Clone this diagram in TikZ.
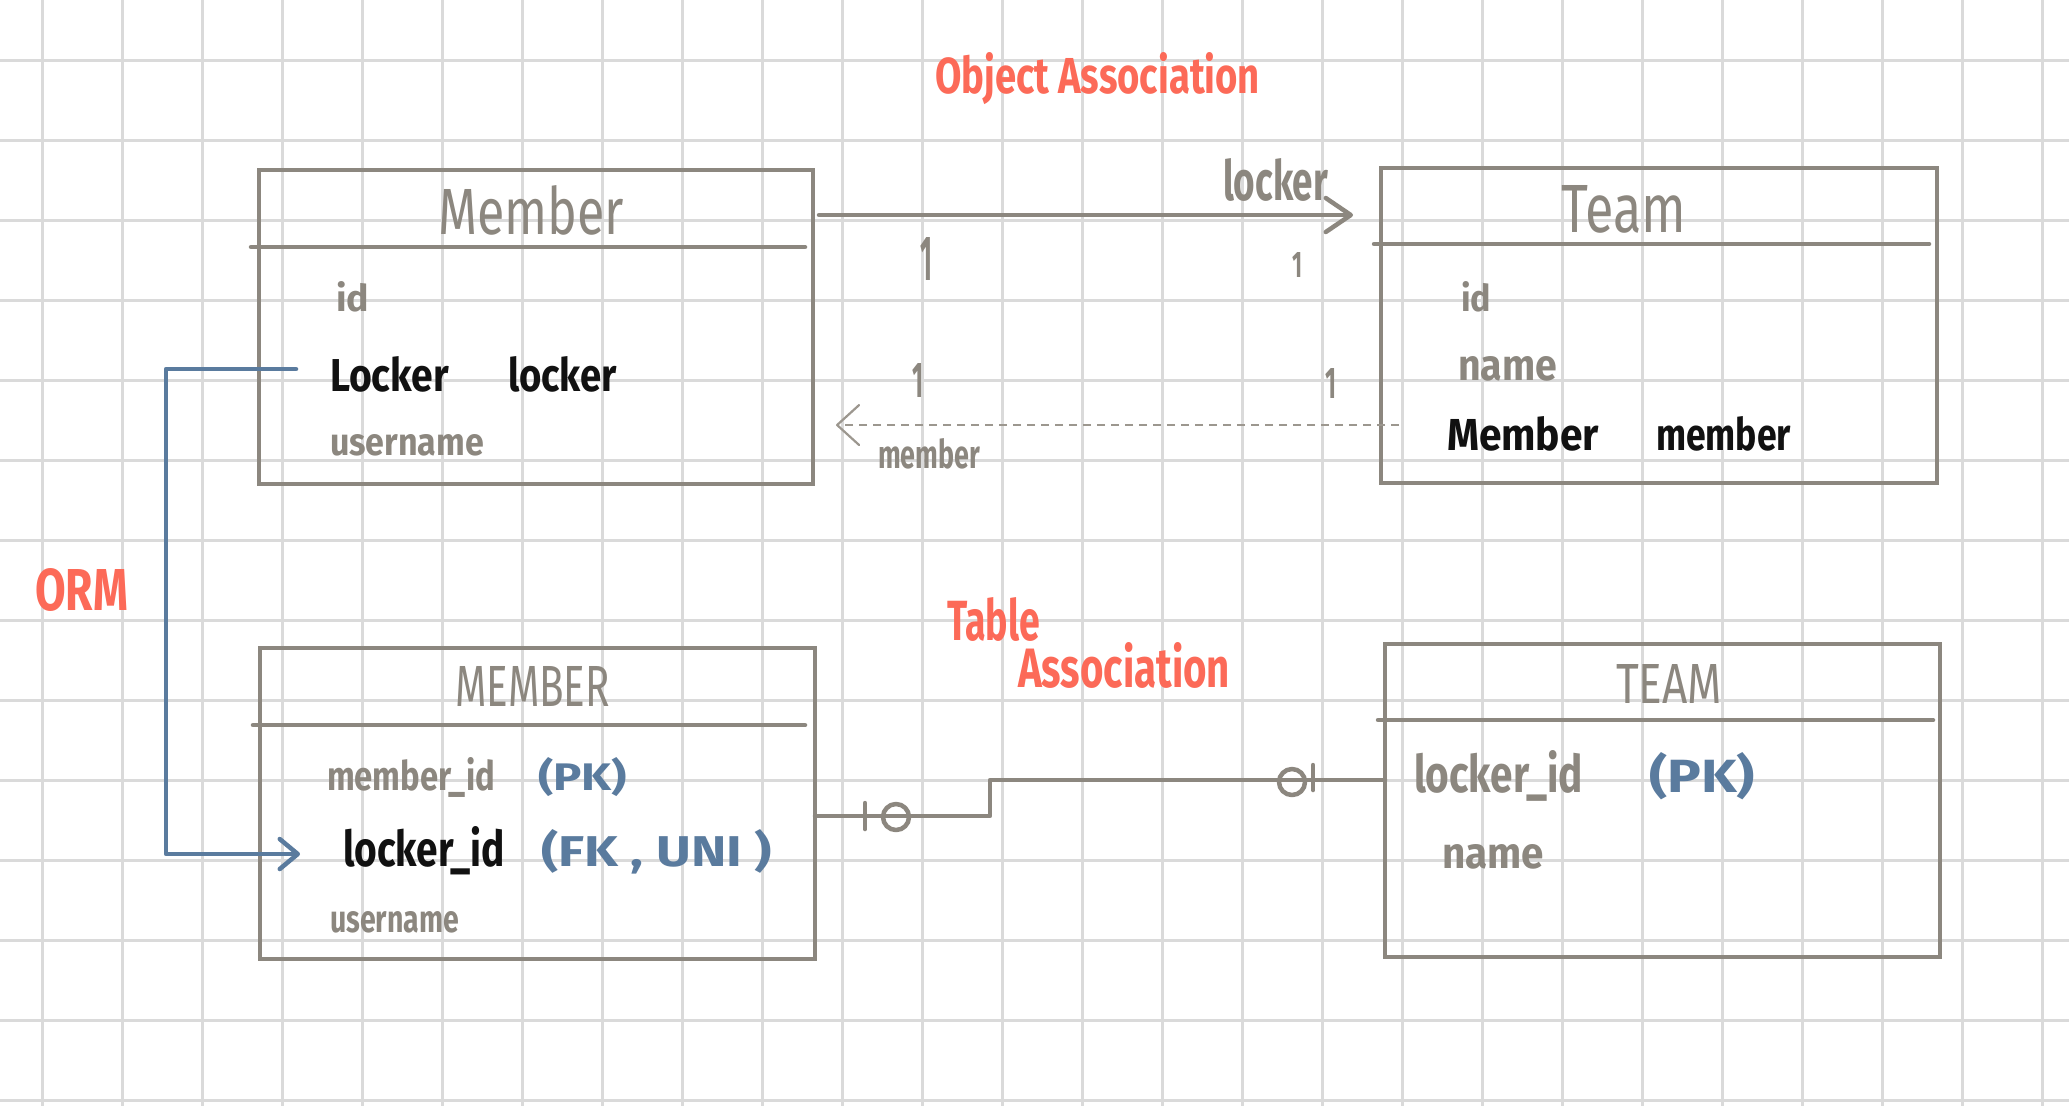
\documentclass[tikz,border=0pt]{standalone}
\usepackage{fontspec}
\setmainfont{Fira Sans}
\usepackage{graphicx}
\usetikzlibrary{arrows.meta,calc}
\definecolor{boxgray}{HTML}{8C877F}
\definecolor{dashgray}{HTML}{9C978F}
\definecolor{ormblue}{HTML}{5A7B9E}
\definecolor{notered}{HTML}{FC6A58}
\definecolor{gridgray}{HTML}{DADADA}
\definecolor{inkblack}{HTML}{111111}
\newlength\px \setlength\px{0.1mm}
\newcommand\hw[3]{\resizebox{#1\px}{#2\px}{#3}}
\begin{document}
\begin{tikzpicture}[x=0.1mm,y=-0.1mm,
  txt/.style={anchor=base west, inner sep=0pt, outer sep=0pt},
  gtxt/.style={txt, text=boxgray},
  gbtxt/.style={txt, text=boxgray, font=\bfseries},
  btxt/.style={txt, text=inkblack, font=\bfseries},
  bltxt/.style={txt, text=ormblue, font=\bfseries},
  rtxt/.style={txt, text=notered, font=\bfseries},
  ebox/.style={draw=boxgray, line width=0.45mm, rectangle, inner sep=0pt, outer sep=0pt},
  hline/.style={draw=boxgray, line width=0.45mm, line cap=round},
  conn/.style={draw=boxgray, line width=0.45mm, line cap=round, line join=round},
  bigbarb/.style={-{Straight Barb[length=2.5mm,width=3.4mm,line width=0.45mm,round]}},
]
\useasboundingbox (0,0) rectangle (2069,1106);
\fill[white] (0,0) rectangle (2069,1106);
% grid
\foreach \i in {0,...,25} \draw[gridgray, line width=0.3mm] (42+80*\i,0) -- (42+80*\i,1106);
\foreach \j in {0,...,13} \draw[gridgray, line width=0.3mm] (0,60+80*\j) -- (2069,60+80*\j);

% boxes
\node[ebox, minimum width=554\px, minimum height=314\px] (member) at (536,327) {};
\node[ebox, minimum width=556\px, minimum height=315\px] (team) at (1659,325.5) {};
\node[ebox, minimum width=555\px, minimum height=311\px] (memberT) at (537.5,803.5) {};
\node[ebox, minimum width=555\px, minimum height=313\px] (teamT) at (1662.5,800.5) {};

% header lines
\draw[hline] ([shift={(-8,77)}]member.north west) -- ([shift={(-8,77)}]member.north east);
\draw[hline] ([shift={(-7,76)}]team.north west) -- ([shift={(-8,76)}]team.north east);
\draw[hline] ([shift={(-7,77)}]memberT.north west) -- ([shift={(-10,77)}]memberT.north east);
\draw[hline] ([shift={(-7,76)}]teamT.north west) -- ([shift={(-7,76)}]teamT.north east);

% titles
\node[rtxt] (objassoc) at (935,93) {\hw{325}{41}{Object Association}};
\node[gtxt] (memberTitle) at (438,234) {\hw{186}{49}{Member}};
\node[gtxt] (teamTitle) at (1561,232) {\hw{125}{47}{Team}};
\node[gtxt] (memberTTitle) at (455,706) {\hw{155}{40}{MEMBER}};
\node[gtxt] (teamTTitle) at (1616,703) {\hw{106}{39}{TEAM}};

% Member fields
\node[gbtxt] (mId) at (336,311) {\hw{33}{30}{id}};
\node[btxt] (mLocker) at (330,391) {\hw{119}{35}{Locker}\hspace{59\px}\hw{109}{35}{locker}};
\node[gbtxt] (mUser) at (330,455) {\hw{154}{21}{username}};

% Team fields
\node[gbtxt] (tId) at (1461,311) {\hw{30}{30}{id}};
\node[gbtxt] (tName) at (1458,380) {\hw{99}{24}{name}};
\node[btxt] (tMember) at (1447,450) {\hw{152}{34}{Member}\hspace{57\px}\hw{135}{34}{member}};

% MEMBER table fields
\node[gbtxt] (mtId) at (327,790) {\hw{168}{33}{member\_id}};
\node[bltxt] (mtPK) at (538,790) {\hw{89}{33}{(PK)}};
\node[btxt] (mtLocker) at (343,866) {\hw{162}{40}{locker\_id}};
\node[bltxt] (mtFK) at (541,866) {\hw{231}{37}{(FK , UNI )}};
\node[gbtxt] (mtUser) at (330,932) {\hw{129}{21}{username}};

% TEAM table fields
\node[gbtxt] (ttLocker) at (1414,792) {\hw{169}{42}{locker\_id}};
\node[bltxt] (ttPK) at (1649,792) {\hw{106}{40}{(PK)}};
\node[gbtxt] (ttName) at (1442,868) {\hw{102}{24}{name}};

% object association
\draw[conn, bigbarb] ([shift={(6,45)}]member.north east) -- ([shift={(-28,47)}]team.north west);
\node[gbtxt] (lockerLbl) at (1223,200) {\hw{105}{42}{locker}};
\draw[draw=dashgray, line width=0.22mm, dash pattern=on 8\px off 6\px,
  -{Straight Barb[length=2.2mm,width=4mm,line width=0.22mm,round]}]
  ([shift={(18,257)}]team.north west) -- ([shift={(23,255)}]member.north east);
\node[gbtxt] (memberLbl) at (878,468) {\hw{102}{30}{member}};

% multiplicities
\node[gbtxt] (m1) at (920,280) {\hw{12}{43}{1}};
\node[gbtxt] (m2) at (1292,277) {\hw{10}{25}{1}};
\node[gbtxt] (m3) at (912,397) {\hw{11}{34}{1}};
\node[gbtxt] (m4) at (1325,398) {\hw{11}{30}{1}};

% ORM connector
\coordinate (ormA) at ([shift={(-34,-22)}]mLocker.base west);
\coordinate (ormB) at ([shift={(-43,-12)}]mtLocker.base west);
\draw[draw=ormblue, line width=0.45mm, line join=round, line cap=round,
  -{Straight Barb[length=1.8mm,width=3mm,line width=0.45mm,round]}]
  (ormA) -- ++(-130,0) |- (ormB);
\node[rtxt] (orm) at (35,610) {\hw{93}{42}{ORM}};

% table association
\coordinate (tA) at ([shift={(0,168)}]memberT.north east);
\coordinate (tB) at ([shift={(0,136)}]teamT.north west);
\coordinate (jog) at (990,800);
\draw[conn] (tA) -| (jog) |- (tB);
\draw[conn] (865,803) -- (865,829);
\draw[conn] (896,817) circle[radius=13];
\draw[conn] (1292,782) circle[radius=13];
\draw[conn] (1313,765) -- (1313,790);
\node[rtxt] (tableLbl) at (947,640) {\hw{93}{43}{Table}};
\node[rtxt] (assocLbl) at (1018,687) {\hw{212}{45}{Association}};
\end{tikzpicture}
\end{document}
